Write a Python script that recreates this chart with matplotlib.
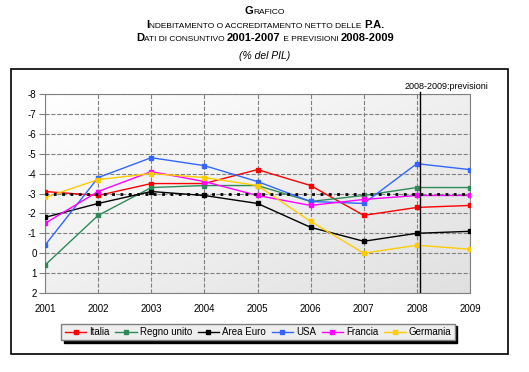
import numpy as np
import matplotlib
matplotlib.use('Agg')
import matplotlib.pyplot as plt
from matplotlib.patches import Rectangle

plt.rcParams['font.family'] = ['Liberation Sans', 'DejaVu Sans']
plt.rcParams['axes.unicode_minus'] = False

anni = [2001, 2002, 2003, 2004, 2005, 2006, 2007, 2008, 2009]
italia = [-3.1, -2.9, -3.5, -3.5, -4.2, -3.4, -1.9, -2.3, -2.4]
regno_unito = [0.6, -1.9, -3.3, -3.4, -3.4, -2.6, -2.9, -3.3, -3.3]
area_euro = [-1.8, -2.5, -3.1, -2.9, -2.5, -1.3, -0.6, -1.0, -1.1]
usa = [-0.4, -3.8, -4.8, -4.4, -3.6, -2.6, -2.5, -4.5, -4.2]
francia = [-1.5, -3.1, -4.1, -3.6, -2.9, -2.4, -2.7, -2.9, -2.9]
germania = [-2.8, -3.7, -4.0, -3.8, -3.4, -1.6, 0.0, -0.4, -0.2]
serie = [('Italia', italia, '#ff0000'), ('Regno unito', regno_unito, '#2e8b57'),
         ('Area Euro', area_euro, '#000000'), ('USA', usa, '#3366ff'),
         ('Francia', francia, '#ff00ff'), ('Germania', germania, '#ffcc00')]
soglia = -3

W, H = 529, 372
fig = plt.figure(figsize=(W / 100, H / 100), dpi=100)

# cornice esterna
fig.patches.append(Rectangle((11 / W, 1 - 354 / H), 497 / W, 285 / H, transform=fig.transFigure,
                             fill=False, edgecolor='black', linewidth=1.2))

ax = fig.add_axes([45 / W, 1 - 293 / H, 425 / W, 199 / H])
grad = np.add.outer(np.linspace(0, 1, 100), np.linspace(0, 1, 100)) / 2
g = 1 - 0.12 * grad
rgb = np.dstack([g, g, g])
ax.imshow(rgb, extent=[0, 1, 0, 1], transform=ax.transAxes,
          aspect='auto', zorder=0, interpolation='bilinear')

for nome, val, col in serie:
    ax.plot(anni, val, color=col, lw=1, marker='s', ms=3, label=nome, zorder=3)

ax.axhline(soglia, color='black', lw=2, ls=(0, (1, 2)), zorder=4)
ax.axvline(2008.05, ymin=0.0, ymax=1.0, color='black', lw=1, zorder=5)
ax.plot([2008.05, 2008.05], [-8, -8.1], color='black', lw=1, clip_on=False)
ax.text(2008.55, -8.15, '2008-2009:previsioni', fontsize=6.5, ha='center', va='bottom')

ax.set_xlim(2001, 2009)
ax.set_ylim(2, -8)
ax.set_xticks(anni)
ax.set_yticks(range(-8, 3))
ax.grid(True, color='#808080', ls='--', lw=0.8)
ax.tick_params(axis='y', length=4, color='#808080', labelsize=7, pad=2)
ax.tick_params(axis='x', length=0, labelsize=7, pad=8)
for s in ax.spines.values():
    s.set_color('#808080')

leg = fig.legend(loc='center', bbox_to_anchor=(258 / W, 1 - 332 / H), ncol=6, fontsize=7,
                 frameon=True, fancybox=False, shadow={'color': 'black', 'alpha': 1},
                 handlelength=2.2, handletextpad=0.3, columnspacing=0.6, borderpad=0.35)
leg.get_frame().set_edgecolor('#808080')
leg.get_frame().set_facecolor('#eeeeee')


def riga(pezzi, y):
    # pezzi: (testo, dimensione, grassetto)
    fig.canvas.draw()
    r = fig.canvas.get_renderer()
    objs = []
    tot = 0
    for t, sz, b in pezzi:
        o = fig.text(0, y, t, fontsize=sz, fontweight='bold' if b else 'normal', va='baseline')
        w = o.get_window_extent(r).width
        objs.append((o, w))
        tot += w
    x = 265 - tot / 2
    for o, w in objs:
        o.set_x(x / W)
        x += w


riga([('G', 8, True), ('RAFICO', 6, False)], 1 - 14 / H)
riga([('I', 8, True), ('NDEBITAMENTO O ACCREDITAMENTO NETTO DELLE ', 6, False), ('P.A.', 8, True)], 1 - 28 / H)
riga([('D', 8, True), ('ATI DI CONSUNTIVO ', 6, False), ('2001-2007', 8, True),
      (' E PREVISIONI ', 6, False), ('2008-2009', 8, True)], 1 - 41 / H)
fig.text(265 / W, 1 - 56 / H, '(% del PIL)', fontsize=7.5, style='italic', ha='center', va='center')

fig.savefig('out.png', dpi=100)
